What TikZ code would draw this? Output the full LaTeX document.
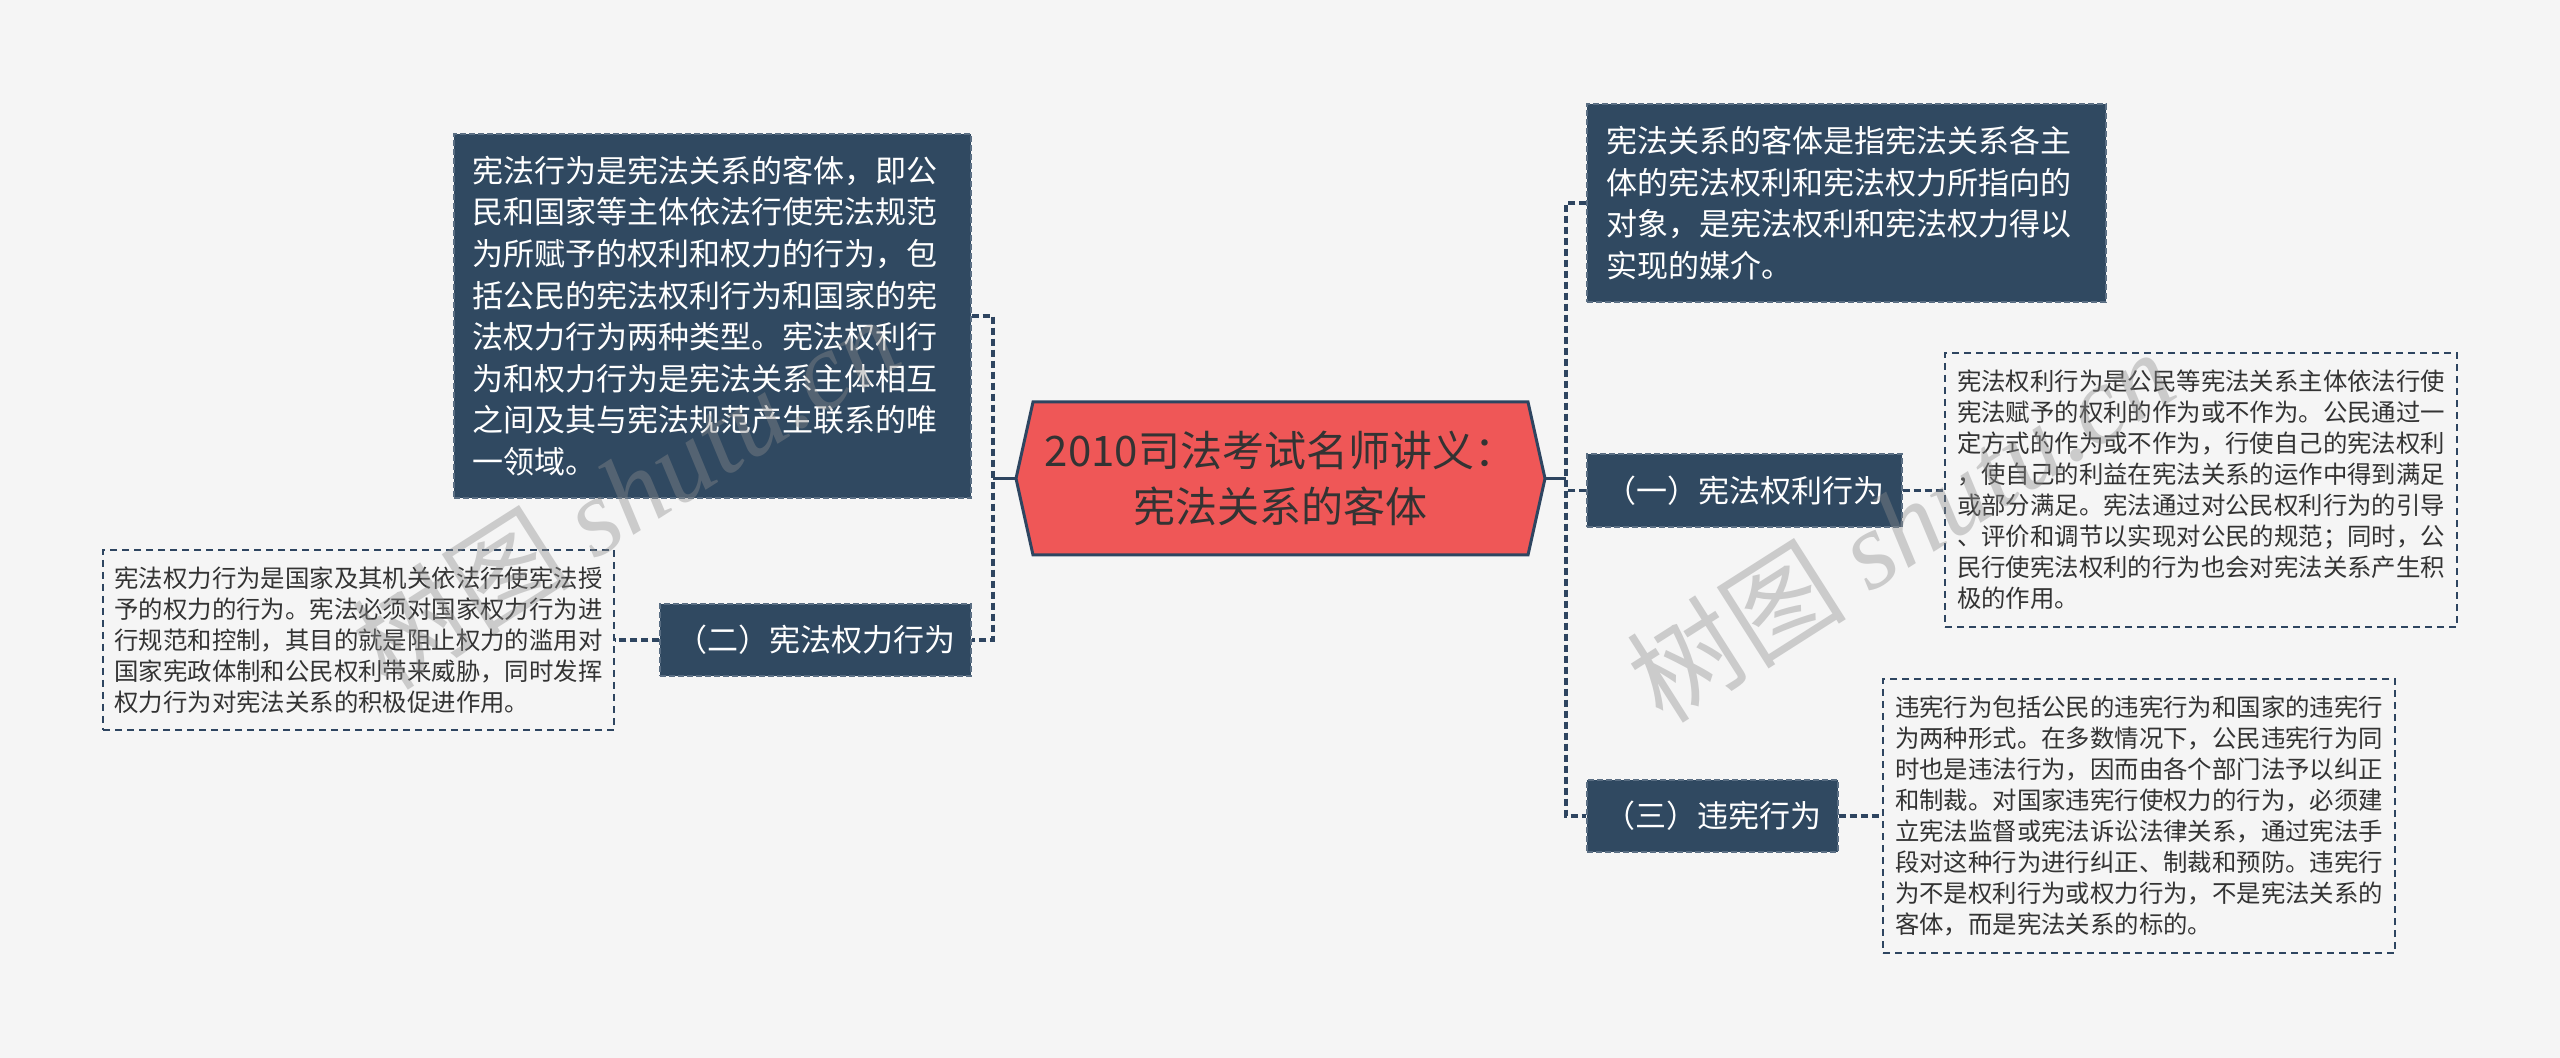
\documentclass[tikz,border=0pt]{standalone}
\usepackage{fontspec}
\setmainfont{Noto Sans CJK SC}
\newfontfamily\wmlatin{Liberation Serif}
\definecolor{bgc}{HTML}{F5F5F5}
\definecolor{navy}{HTML}{2E4560}
\definecolor{boxc}{HTML}{304961}
\definecolor{boxedge}{HTML}{5A6E83}
\definecolor{redc}{HTML}{EF5757}
\definecolor{txtc}{HTML}{333333}
\definecolor{wmc}{HTML}{8C8C8C}
\begin{document}
\begin{tikzpicture}[x=0.5pt,y=-0.5pt]
\tikzset{
 darkbox/.style={fill=boxc, draw=boxedge, dash pattern=on 3pt off 1.5pt, line width=0.6pt, text=white, inner sep=0pt},
 bigtext/.style={darkbox, font=\fontsize{15.5}{20.8}\selectfont, align=left},
 labelbox/.style={darkbox, font=\fontsize{15.5}{19}\selectfont, align=center},
 detailbox/.style={draw=navy, dash pattern=on 3.5pt off 2.5pt, line width=0.6pt, text=txtc, font=\fontsize{12.2}{15.5}\selectfont, align=left, inner sep=0pt},
 conn/.style={draw=navy, line width=1.6pt, dash pattern=on 3.5pt off 2pt},
 stem/.style={draw=navy, line width=1.6pt},
 wm/.style={text=wmc, text opacity=0.4, rotate=32.5, inner sep=0pt}
}
\useasboundingbox (0,0) rectangle (2560,1058);
\fill[bgc] (0,0) rectangle (2560,1058);

% central hexagon
\filldraw[fill=redc, draw=navy, line width=1.5pt, line join=miter]
  (1016,478.5) -- (1033,402) -- (1528,402) -- (1545,478.5) -- (1528,555) -- (1033,555) -- cycle;
\node[text=txtc, font=\fontsize{21}{28}\selectfont, align=center, minimum width=264.5pt, minimum height=76.5pt, inner sep=0pt] (hex) at (1280.5,478.5) {2010司法考试名师讲义：\\宪法关系的客体};

% left side
\node[bigtext, minimum width=258.5pt, minimum height=182pt, text width=240pt] (tl) at (712.5,316) {宪法行为是宪法关系的客体，即公\\民和国家等主体依法行使宪法规范\\为所赋予的权利和权力的行为，包\\括公民的宪法权利行为和国家的宪\\法权力行为两种类型。宪法权利行\\为和权力行为是宪法关系主体相互\\之间及其与宪法规范产生联系的唯\\一领域。};
\node[labelbox, minimum width=155.5pt, minimum height=36pt] (c2) at (815.5,640) {（二）宪法权力行为};
\node[detailbox, minimum width=255.5pt, minimum height=90pt] (d2) at (358.5,640) {宪法权力行为是国家及其机关依法行使宪法授\\予的权力的行为。宪法必须对国家权力行为进\\行规范和控制，其目的就是阻止权力的滥用对\\国家宪政体制和公民权利带来威胁，同时发挥\\权力行为对宪法关系的积极促进作用。};

% right side
\node[bigtext, minimum width=259.5pt, minimum height=99pt, text width=240pt] (tr) at (1846.5,203) {宪法关系的客体是指宪法关系各主\\体的宪法权利和宪法权力所指向的\\对象，是宪法权利和宪法权力得以\\实现的媒介。};
\node[labelbox, minimum width=157.5pt, minimum height=36.5pt] (c1) at (1744.5,490.5) {（一）宪法权利行为};
\node[detailbox, minimum width=256pt, minimum height=137pt] (d1) at (2201,490) {宪法权利行为是公民等宪法关系主体依法行使\\宪法赋予的权利的作为或不作为。公民通过一\\定方式的作为或不作为，行使自己的宪法权利\\，使自己的利益在宪法关系的运作中得到满足\\或部分满足。宪法通过对公民权利行为的引导\\、评价和调节以实现对公民的规范；同时，公\\民行使宪法权利的行为也会对宪法关系产生积\\极的作用。};
\node[labelbox, minimum width=125.5pt, minimum height=36pt] (c3) at (1712.5,816) {（三）违宪行为};
\node[detailbox, minimum width=256pt, minimum height=137pt] (d3) at (2139,816) {违宪行为包括公民的违宪行为和国家的违宪行\\为两种形式。在多数情况下，公民违宪行为同\\时也是违法行为，因而由各个部门法予以纠正\\和制裁。对国家违宪行使权力的行为，必须建\\立宪法监督或宪法诉讼法律关系，通过宪法手\\段对这种行为进行纠正、制裁和预防。违宪行\\为不是权利行为或权力行为，不是宪法关系的\\客体，而是宪法关系的标的。};

% junctions
\coordinate (jl) at (993,478.5);
\coordinate (jr) at (1566,478.5);

% connectors
\draw[stem] (hex.west) -- (jl);
\draw[stem] (hex.east) -- (jr);
\draw[conn] (tl.east) -| (jl) |- (c2.east);
\draw[conn] (tr.west) -| (jr) |- (c3.west);
\draw[conn] (c1.west) -- (c1.west -| jr);
\draw[conn] (c2.west) -- (d2.east);
\draw[conn] (c1.east) -- (c1.east -| d1.west);
\draw[conn] (c3.east) -- (c3.east -| d3.west);

% watermarks
\node[wm, font=\fontsize{55}{60}\selectfont] (wmr) at (1900,525) {树图 {\wmlatin\itshape shutu.cn}};
\node[wm, font=\fontsize{55}{60}\selectfont] (wml) at (625,492) {树图 {\wmlatin\itshape shutu.cn}};
\end{tikzpicture}
\end{document}
